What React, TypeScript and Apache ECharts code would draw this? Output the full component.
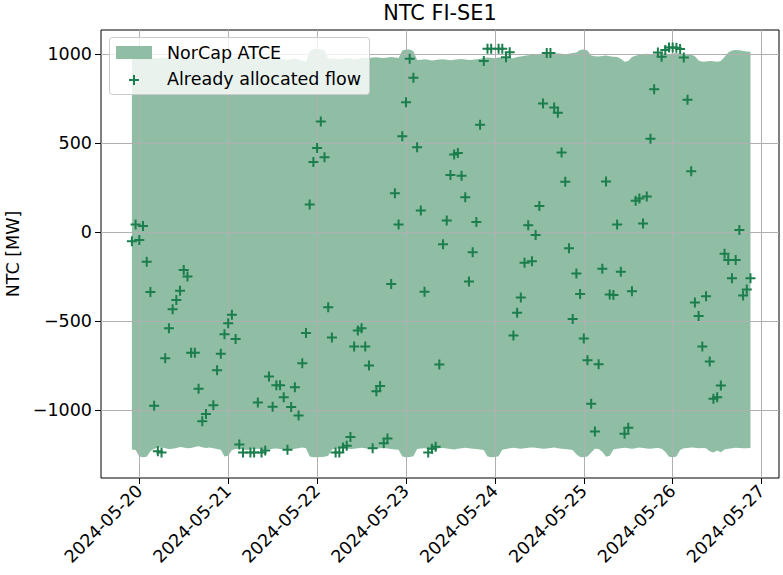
import React, { useEffect, useRef } from "react";
import * as echarts from "echarts";

// ---- data ----
const chartTitle = "NTC FI-SE1";
const yAxisName = "NTC [MW]";
const areaName = "NorCap ATCE";
const flowName = "Already allocated flow";

// x ticks: hours since 2024-05-20 00:00
const xTickHours = [0, 24, 48, 72, 96, 120, 144, 168];
const xTickLabels = ["2024-05-20", "2024-05-21", "2024-05-22", "2024-05-23", "2024-05-24", "2024-05-25", "2024-05-26", "2024-05-27"];
const yTickValues = [-1000, -500, 0, 500, 1000];

// NorCap ATCE band, hourly from 2024-05-19 22:00 (hour -2) to 2024-05-26 21:00 (hour 165)
const bandStartHour = -2;
const bandUpper = [
  978, 982, 985, 983, 980, 978,
  976, 978, 980, 982, 979, 976, 975, 978, 981, 983, 980, 977, 975,
  973, 976, 979, 981, 978, 975, 973, 976, 980, 984, 986, 983,
  990, 993, 988, 982, 978,
  976, 974, 977, 979, 975, 972, 970, 973, 976, 971, 965, 958,
  1018, 1030, 1031, 1029, 1020,
  975, 977, 974, 972, 975, 978, 976, 973, 975, 979, 981, 980,
  982, 984, 981, 979, 983, 985, 982, 980,
  1022, 1028, 1027, 1018,
  968, 970, 972, 969, 966, 968, 971, 973, 970, 967, 969, 972, 974, 971, 968, 970, 973, 975,
  980, 983, 981, 978, 982, 985, 983, 980, 978,
  985, 988, 992, 995, 998, 1000, 1003, 1001, 998, 1000, 1004, 1006, 1003, 1001, 1004, 1007, 1010,
  1024, 1027, 1022,
  993, 990, 988, 991, 993, 990, 987, 985, 975,
  958, 962,
  985, 992, 998, 1002, 1004, 1001, 1003, 1005,
  1006, 1004, 1002, 1005, 1007, 1004, 1003, 1001, 998, 990,
  965, 958, 960, 963, 961, 959, 962,
  985, 1010, 1022, 1025, 1023, 1019, 1016, 1015,
];
const bandLower = [
  -1222, -1225,
  -1262, -1266, -1264,
  -1232, -1218, -1212, -1210, -1215, -1220, -1218, -1214, -1209, -1212, -1216, -1214, -1208, -1205, -1210, -1214, -1212, -1216, -1220, -1224,
  -1262, -1258,
  -1225, -1220, -1218, -1222, -1225, -1223, -1220, -1218, -1221, -1224, -1222, -1219, -1217, -1220, -1223, -1225, -1222, -1218, -1216, -1212, -1215,
  -1262, -1266, -1266, -1265, -1263, -1258,
  -1222, -1219, -1216, -1214, -1217, -1220, -1218, -1215, -1213, -1216, -1219, -1221, -1218, -1215, -1214, -1217, -1220, -1222, -1224,
  -1262, -1266, -1265, -1260,
  -1220, -1217, -1215, -1218, -1221, -1219, -1216, -1214, -1217, -1220, -1222, -1219, -1216, -1213, -1215, -1218, -1220, -1222, -1225,
  -1262, -1266, -1265, -1261,
  -1224, -1220, -1216, -1213, -1215, -1218, -1216, -1213, -1211, -1213, -1216, -1219, -1217, -1214, -1212, -1215, -1218, -1220, -1222, -1226,
  -1250, -1265, -1266, -1262, -1240,
  -1218, -1220, -1235,
  -1264, -1258,
  -1222, -1218, -1215, -1213, -1216, -1218, -1215, -1212, -1214, -1217, -1219, -1216, -1214, -1218, -1235,
  -1264, -1266, -1262,
  -1225, -1216, -1214, -1212, -1213, -1215, -1214, -1216,
  -1232, -1240, -1228, -1238,
  -1222, -1218, -1215, -1213, -1214, -1216, -1215, -1214,
];

// Already allocated flow (hour since 2024-05-20 00:00, MW)
const flowHours = [
  -2, -1, 0, 1, 2, 3, 4, 5, 6, 7, 8, 9, 10, 11, 12, 13, 14, 15, 16, 17, 18, 20,
  21, 22, 23, 24, 25, 26, 27, 28, 30, 31, 32, 33, 34, 35, 36, 37, 38, 39, 40,
  41, 42, 43, 44, 45, 46, 47, 48, 49, 50, 51, 52, 53, 54, 55, 56, 57, 58, 59, 60,
  61, 62, 63, 64, 65, 66, 67, 68, 69, 70, 71, 72, 73, 74, 75, 76, 77, 78, 79, 80,
  81, 82, 83, 84, 85, 86, 87, 88, 89, 90, 91, 92, 93, 94, 95, 97, 98, 99, 100,
  101, 102, 103, 104, 105, 106, 107, 108, 109, 110, 111, 112, 113, 114, 115, 116, 117, 118, 119, 120,
  121, 122, 123, 124, 125, 126, 127, 128, 129, 130, 131, 132, 133, 134, 135, 136, 137, 138, 139, 140,
  141, 142, 143, 144, 145, 146, 147, 148, 149, 150, 151, 152, 153, 154, 155, 156, 157, 158, 159, 160,
  161, 162, 163, 164, 165,
];
const flowValues = [
  -51, 43, -44, 35, -166, -337, -977, -1233, -1239, -710, -541, -434, -382, -330, -213, -250, -679, -679, -881, -1064, -1023, -974,
  -777, -684, -574, -512, -465, -601, -1194, -1239, -1239, -1239, -959, -1239, -1228, -812, -982, -861, -861, -929, -1224,
  -983, -873, -1032, -737, -567, 156, 394, 473, 623, 421, -423, -592, -1239, -1239, -1212, -1201, -1153, -643, -553, -540,
  -644, -750, -1216, -895, -865, -1187, -1161, -292, 219, 43, 540, 730, 975, 868, 477, 121, -336, -1239, -1219, -1207,
  -744, -68, 65, 322, 436, 445, 317, 196, -278, -113, 57, 604, 963, 1031, 1031, 1031, 1031, 984, 1012,
  -581, -454, -368, -172, 39, -164, -16, 147, 723, 1008, 1008, 701, 672, 448, 283, -90, -488, -233, -348, -599,
  -720, -965, -1122, -743, -206, 285, -351, -354, 43, -223, -1134, -1101, -333, 176, 189, 49, 201, 525, 804, 1010,
  986, 1024, 1038, 1038, 1037, 1030, 983, 745, 342, -396, -472, -643, -360, -728, -937, -929, -862, -121, -157, -259,
  -157, 12, -357, -322, -260,
];

const AREA_COLOR = "#8fbea4";
const MARKER_COLOR = "#1b7e4c";
const FONT = "DejaVu Sans";
const TICK_FS = 17.5;
const TITLE_FS = 20.8;
const PLUS = "path://M4 0H6V4H10V6H6V10H4V6H0V4H4Z";

export default function App() {
  const ref = useRef<HTMLDivElement>(null);

  useEffect(() => {
    if (!ref.current) return;
    const chart = echarts.init(ref.current, null, { renderer: "svg" });

    const bandHours = bandUpper.map((_, i) => bandStartHour + i);
    const bandData = bandHours.map((h, i) => [h, bandLower[i], bandUpper[i]]);
    const flowData = flowHours.map((h, i) => [h, flowValues[i]]);

    const option: any = {
      animation: false,
      backgroundColor: "#ffffff",
      textStyle: { fontFamily: FONT },
      grid: {
        left: 101,
        top: 30,
        width: 678,
        height: 448,
        show: true,
        borderColor: "#000000",
        borderWidth: 1,
        backgroundColor: "transparent",
        containLabel: false,
        outerBoundsMode: "none",
      },
      xAxis: {
        type: "value",
        min: -10.34,
        max: 172.7,
        z: 3,
        axisLine: { show: false, onZero: false },
        axisTick: {
          show: true,
          customValues: xTickHours,
          length: 6,
          lineStyle: { color: "#000", width: 1 },
        },
        axisLabel: {
          customValues: xTickHours,
          rotate: 45,
          margin: 10,
          color: "#000",
          fontSize: TICK_FS,
          fontFamily: FONT,
          formatter: (v: number) => {
            const idx = xTickHours.indexOf(Math.round(v));
            return idx >= 0 ? xTickLabels[idx] : "";
          },
        },
        splitLine: { show: true, lineStyle: { color: "#b0b0b0", width: 1 } },
      },
      yAxis: {
        type: "value",
        min: -1383,
        max: 1137,
        z: 3,
        name: yAxisName,
        nameLocation: "middle",
        nameGap: 79,
        nameTextStyle: { color: "#000", fontSize: TICK_FS, fontFamily: FONT },
        axisLine: { show: false, onZero: false },
        axisTick: {
          show: true,
          customValues: yTickValues,
          length: 6,
          lineStyle: { color: "#000", width: 1 },
        },
        axisLabel: {
          customValues: yTickValues,
          margin: 9,
          color: "#000",
          fontSize: TICK_FS,
          fontFamily: FONT,
          formatter: (v: number) => String(v).replace("-", "\u2212"),
        },
        splitLine: { show: true, lineStyle: { color: "#b0b0b0", width: 1 } },
      },
      series: [
        {
          name: areaName,
          type: "custom",
          z: 1,
          data: bandData,
          encode: { x: 0, y: [1, 2] },
          renderItem: (params: any, api: any) => {
            if (params.dataIndex !== 0) return null;
            const top: number[][] = [];
            const bot: number[][] = [];
            for (let i = 0; i < bandHours.length; i++) {
              top.push(api.coord([bandHours[i], bandUpper[i]]));
              bot.push(api.coord([bandHours[i], bandLower[i]]));
            }
            return {
              type: "polygon",
              shape: { points: top.concat(bot.reverse()) },
              style: { fill: AREA_COLOR, stroke: null },
            };
          },
        },
        {
          name: flowName,
          type: "scatter",
          z: 5,
          data: flowData,
          symbol: PLUS,
          symbolSize: 10,
          itemStyle: { color: MARKER_COLOR, opacity: 1 },
        },
      ],
      graphic: [
        {
          type: "text",
          x: 440,
          y: 13,
          z: 100,
          style: {
            text: chartTitle,
            fill: "#000",
            font: `${TITLE_FS}px '${FONT}'`,
            textAlign: "center",
            textVerticalAlign: "middle",
          },
        },
        {
          type: "rect",
          z: 100,
          shape: { x: 109.5, y: 37.5, width: 260, height: 57, r: 3 },
          style: { fill: "rgba(255,255,255,0.8)", stroke: "#cccccc", lineWidth: 1 },
        },
        {
          type: "rect",
          z: 101,
          shape: { x: 116, y: 46, width: 36, height: 13 },
          style: { fill: AREA_COLOR },
        },
        {
          type: "rect",
          z: 101,
          shape: { x: 129, y: 79, width: 10, height: 2 },
          style: { fill: MARKER_COLOR },
        },
        {
          type: "rect",
          z: 101,
          shape: { x: 133, y: 75, width: 2, height: 10 },
          style: { fill: MARKER_COLOR },
        },
        {
          type: "text",
          x: 167,
          y: 53,
          z: 101,
          style: { text: areaName, fill: "#000", font: `${TICK_FS}px '${FONT}'`, textVerticalAlign: "middle" },
        },
        {
          type: "text",
          x: 167,
          y: 79,
          z: 101,
          style: { text: flowName, fill: "#000", font: `${TICK_FS}px '${FONT}'`, textVerticalAlign: "middle" },
        },
      ],
    };

    chart.setOption(option);
    return () => chart.dispose();
  }, []);

  return (
    <div
      ref={ref}
      style={{ position: "absolute", left: 0, top: 0, width: 783, height: 575 }}
    />
  );
}
